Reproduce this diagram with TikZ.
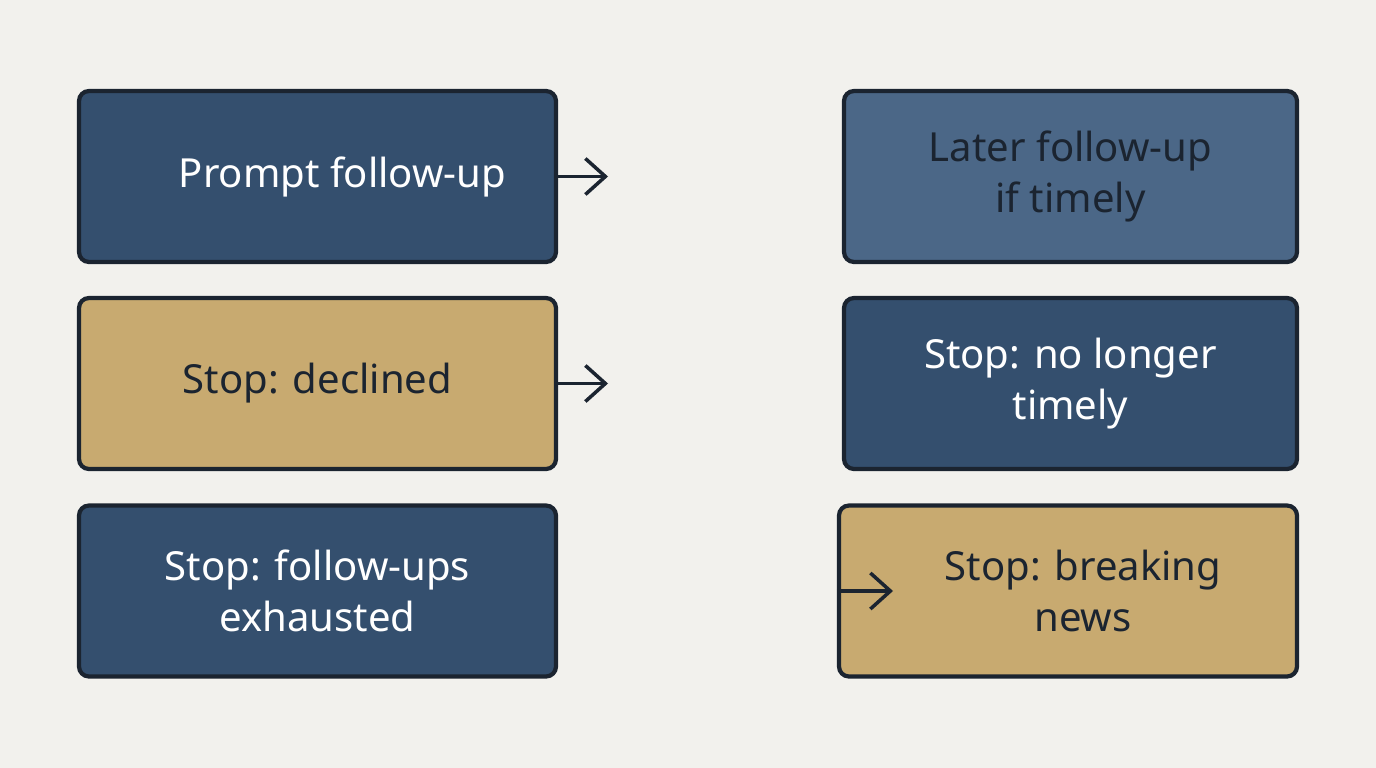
\documentclass[tikz,border=0pt]{standalone}
\usepackage{fontspec}
\setmainfont{Noto Sans}
\usepackage{xcolor}
\definecolor{bgPaper}{HTML}{F2F1ED}
\definecolor{boxDark}{HTML}{344F6E}
\definecolor{boxMid}{HTML}{4B6787}
\definecolor{boxGold}{HTML}{C8AA70}
\definecolor{lineDark}{HTML}{1B2430}
\usetikzlibrary{arrows.meta,positioning}
\tikzset{
    stepbox/.style={
        draw=lineDark,
        rectangle,
        rounded corners=1mm,
        align=center,
        line width=1.2pt,
        minimum width=4.77cm,
        minimum height=1.71cm,
        font=\fontsize{11.4pt}{14.5pt}\selectfont
    },
    bluebox/.style={stepbox, fill=boxDark, text=white},
    goldbox/.style={stepbox, fill=boxGold, text=lineDark},
    arrow/.style={
        -{Straight Barb[length=2mm,width=3.6mm]},
        line width=1pt,
        color=lineDark
    }
}
\begin{document}
\begin{tikzpicture}[x=1cm,y=-1cm]
    \fill[bgPaper] (0,0) rectangle (13.76,7.68);
    \useasboundingbox (0,0) rectangle (13.76,7.68);

    % Left column
    \node[bluebox] (prompt) at (3.175,1.765) {\hspace{5mm}Prompt follow-up};
    \node[goldbox] (declined) at (3.175,3.835) {Stop: declined};
    \node[bluebox] (exhausted) at (3.175,5.91) {Stop: follow-ups\\exhausted\hspace{3mm}};

    % Right column
    \node[bluebox, fill=boxMid, text=lineDark, minimum width=4.53cm] (later) at (10.705,1.765) {Later follow-up\\if timely};
    \node[bluebox, minimum width=4.53cm] (timely) at (10.705,3.835) {Stop: no longer\\timely};
    \node[goldbox, minimum width=4.58cm] (breaking) at (10.68,5.91) {\hspace{3mm}Stop: breaking\\\hspace{3mm}news};

    % Arrows
    \coordinate (promptEnd) at (6.08,1.765);
    \coordinate (declinedEnd) at (6.08,3.835);
    \coordinate (breakingEnd) at (8.93,5.91);
    \draw[arrow] (prompt.east) -- (promptEnd);
    \draw[arrow] (declined.east) -- (declinedEnd);
    \draw[arrow] (breaking.west) -- (breakingEnd);
\end{tikzpicture}
\end{document}
